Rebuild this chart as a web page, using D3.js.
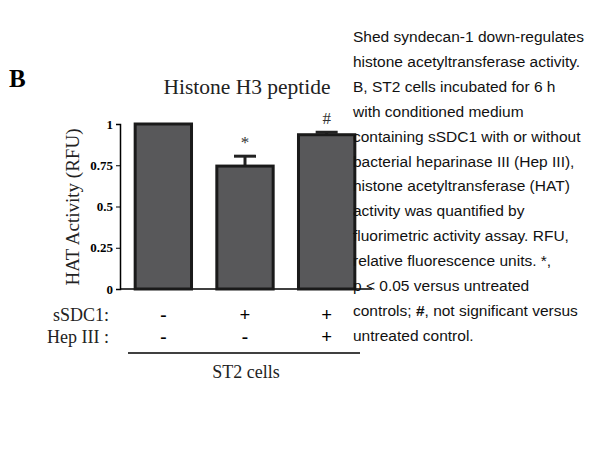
<!DOCTYPE html>
<html><head><meta charset="utf-8">
<script src="https://cdn.jsdelivr.net/npm/d3@7"></script>
<style>body{margin:0;background:#fff}</style></head>
<body><div id="chart"></div>
<script>
const groups = ["ctrl", "sSDC1", "sSDC1+Hep"];
const values = [1.0, 0.745, 0.935];
const errors = [0, 0.06, 0.015];
const marks = ["", "*", "#"];
const sSDC1 = ["-", "+", "+"];
const hep = ["-", "-", "+"];
const yTicks = [0, 0.25, 0.5, 0.75, 1];
const caption = ["Shed syndecan-1 down-regulates","histone acetyltransferase activity.","B, ST2 cells incubated for 6 h","with conditioned medium","containing sSDC1 with or without","bacterial heparinase III (Hep III),","histone acetyltransferase (HAT)","activity was quantified by","fluorimetric activity assay. RFU,","relative fluorescence units. *,","p < 0.05 versus untreated","controls; #, not significant versus","untreated control."];

const svg = d3.select("#chart").append("svg").attr("width", 605).attr("height", 454);
const serif = "Liberation Serif, Times New Roman, serif";

const x = d3.scaleBand().domain(groups).range([127, 363]).paddingInner(0.31).paddingOuter(0.1);
const y = d3.scaleLinear().domain([0, 1]).range([289, 124]);

svg.append("text").attr("x", 9).attr("y", 87).text("B")
  .style("font-family", serif).style("font-weight", "bold").style("font-size", "25px");
svg.append("text").attr("x", 247).attr("y", 94).attr("text-anchor", "middle").text("Histone H3 peptide")
  .style("font-family", serif).style("font-size", "21.5px").style("fill", "#222");

const yAxis = svg.append("g").attr("transform", "translate(120,0)")
  .call(d3.axisLeft(y).tickValues(yTicks).tickFormat(d => d).tickSize(4));
yAxis.selectAll("text").style("font-family", serif).style("font-weight", "bold").style("font-size", "13px");
yAxis.select(".domain").attr("stroke-width", 1.5);
svg.append("line").attr("x1", 120).attr("x2", 372).attr("y1", y(0)).attr("y2", y(0)).attr("stroke", "#000").attr("stroke-width", 1.5);

svg.append("text").attr("transform", "translate(79,207) rotate(-90)").attr("text-anchor", "middle")
  .text("HAT Activity (RFU)").style("font-family", serif).style("font-size", "19px").style("fill", "#222");

// error bars
groups.forEach((g, i) => {
  if (!errors[i]) return;
  const cx = x(g) + x.bandwidth() / 2;
  svg.append("line").attr("x1", cx).attr("x2", cx).attr("y1", y(values[i])).attr("y2", y(values[i] + errors[i])).attr("stroke", "#222").attr("stroke-width", 3);
  svg.append("line").attr("x1", cx - 11).attr("x2", cx + 11).attr("y1", y(values[i] + errors[i])).attr("y2", y(values[i] + errors[i])).attr("stroke", "#222").attr("stroke-width", 3);
});

svg.selectAll("rect.bar").data(groups).join("rect").attr("class", "bar")
  .attr("x", d => x(d)).attr("width", x.bandwidth())
  .attr("y", (d, i) => y(values[i])).attr("height", (d, i) => y(0) - y(values[i]))
  .attr("fill", "#58585a").attr("stroke", "#1a1a1a").attr("stroke-width", 3);

svg.selectAll("text.mark").data(groups).join("text").attr("class", "mark")
  .attr("x", d => x(d) + x.bandwidth() / 2).attr("y", (d, i) => y(values[i] + errors[i]) - 8)
  .attr("text-anchor", "middle").text((d, i) => marks[i])
  .style("font-family", serif).style("font-size", "17px").style("fill", "#333");

const rows = [["sSDC1:", sSDC1, 321], ["Hep III :", hep, 343]];
rows.forEach(([lab, arr, yy]) => {
  svg.append("text").attr("x", 109).attr("y", yy).attr("text-anchor", "end").text(lab)
    .style("font-family", serif).style("font-size", "18px").style("fill", "#222");
  groups.forEach((g, i) => svg.append("text").attr("x", x(g) + x.bandwidth() / 2).attr("y", yy)
    .attr("text-anchor", "middle").text(arr[i]).style("font-family", serif).style("font-weight", "bold").style("font-size", "19px"));
});
svg.append("line").attr("x1", 128).attr("x2", 360).attr("y1", 353).attr("y2", 353).attr("stroke", "#000").attr("stroke-width", 1.5);
svg.append("text").attr("x", 246).attr("y", 378).attr("text-anchor", "middle").text("ST2 cells")
  .style("font-family", serif).style("font-size", "18px").style("fill", "#222");

svg.selectAll("text.cap").data(caption).join("text").attr("class", "cap")
  .attr("x", 353).attr("y", (d, i) => 42 + i * 24.9)
  .style("font-family", "Liberation Sans, Arial, sans-serif").style("font-size", "15.5px").style("fill", "#111")
  .each(function (d) {
    const t = d3.select(this);
    if (d.includes("#")) {
      const parts = d.split("#");
      t.append("tspan").text(parts[0]);
      t.append("tspan").text("#").style("font-weight", "bold");
      t.append("tspan").text(parts[1]);
    } else t.text(d);
  });
</script></body></html>
